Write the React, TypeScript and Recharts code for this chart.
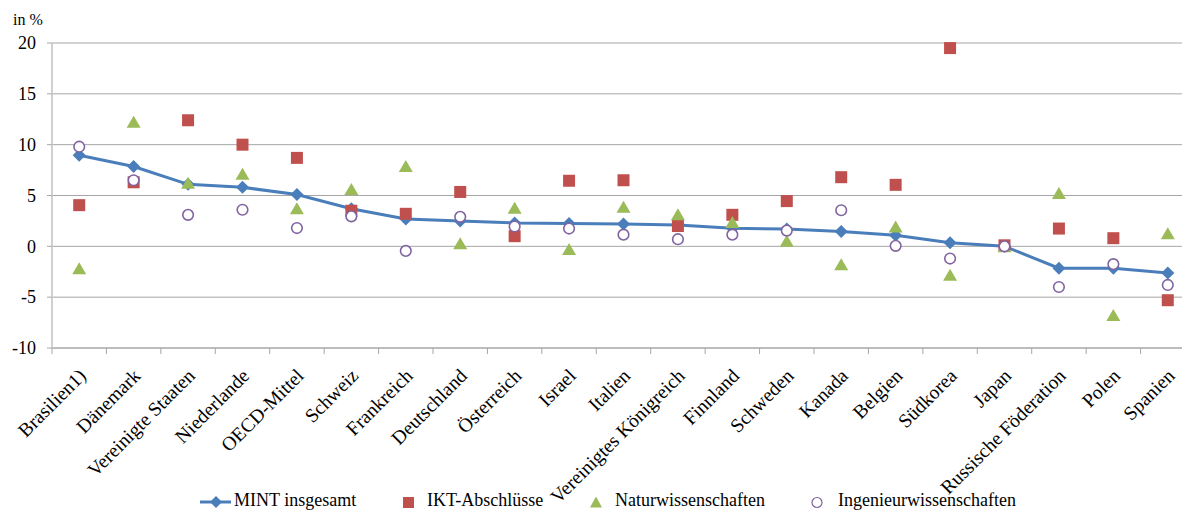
import React from 'react';
import { ComposedChart, Line, XAxis, YAxis, CartesianGrid } from 'recharts';

const categories = [
  'Brasilien1)', 'Dänemark', 'Vereinigte Staaten', 'Niederlande', 'OECD-Mittel', 'Schweiz',
  'Frankreich', 'Deutschland', 'Österreich', 'Israel', 'Italien', 'Vereinigtes Königreich',
  'Finnland', 'Schweden', 'Kanada', 'Belgien', 'Südkorea', 'Japan', 'Russische Föderation',
  'Polen', 'Spanien',
];
const mintValues = [8.95, 7.85, 6.1, 5.8, 5.1, 3.7, 2.7, 2.5, 2.3, 2.25, 2.2, 2.1, 1.77, 1.7, 1.45, 1.1, 0.36, 0.0, -2.15, -2.15, -2.62];
const iktValues = [4.05, 6.3, 12.4, 10.0, 8.7, 3.5, 3.2, 5.35, 1.0, 6.45, 6.5, 2.0, 3.1, 4.45, 6.8, 6.05, 19.5, 0.1, 1.75, 0.8, -5.3];
const naturValues = [-2.2, 12.2, 6.2, 7.1, 3.7, 5.6, 7.85, 0.25, 3.75, -0.3, 3.85, 3.1, 2.35, 0.5, -1.8, 1.9, -2.85, -0.05, 5.2, -6.8, 1.25];
const ingValues = [9.8, 6.5, 3.1, 3.6, 1.8, 2.95, -0.45, 2.9, 1.95, 1.75, 1.15, 0.7, 1.15, 1.55, 3.55, 0.05, -1.2, 0.0, -4.0, -1.75, -3.8];
const yTicks = [-10, -5, 0, 5, 10, 15, 20];
const legendLabels = ['MINT insgesamt', 'IKT-Abschlüsse', 'Naturwissenschaften', 'Ingenieurwissenschaften'];

const data = categories.map((name, i) => ({
  name,
  mint: mintValues[i],
  ikt: iktValues[i],
  natur: naturValues[i],
  ing: ingValues[i],
}));

const BLUE = '#4A7EBB';
const RED = '#C0504D';
const GREEN = '#9BBB59';
const PURPLE = '#8064A2';
const FONT = "'Liberation Serif', 'Times New Roman', serif";

const CHART_W = 1210;
const CHART_H = 510;
const MARGIN = { top: 43, right: 15, left: 0, bottom: 22 };
const Y_W = 52;
const STEP = (CHART_W - MARGIN.left - MARGIN.right - Y_W) / categories.length;

const Diamond = (p: any) => {
  const { cx, cy } = p;
  if (cx == null || cy == null) return <g key={p.key} />;
  const r = 6.5;
  return <polygon key={p.key} points={`${cx},${cy - r} ${cx + r},${cy} ${cx},${cy + r} ${cx - r},${cy}`} fill={BLUE} />;
};
const Square = (p: any) => {
  const { cx, cy } = p;
  if (cx == null || cy == null) return <g key={p.key} />;
  return <rect key={p.key} x={cx - 6} y={cy - 6} width={12} height={12} fill={RED} />;
};
const Triangle = (p: any) => {
  const { cx, cy } = p;
  if (cx == null || cy == null) return <g key={p.key} />;
  return <polygon key={p.key} points={`${cx},${cy - 6.5} ${cx + 7},${cy + 5.5} ${cx - 7},${cy + 5.5}`} fill={GREEN} />;
};
const Circle = (p: any) => {
  const { cx, cy } = p;
  if (cx == null || cy == null) return <g key={p.key} />;
  return <circle key={p.key} cx={cx} cy={cy} r={5.3} fill="#fff" stroke={PURPLE} strokeWidth={1.6} />;
};

const XTick = (props: any) => {
  const { x, y, payload, index } = props;
  const left = x - STEP / 2;
  return (
    <g>
      <line x1={left} y1={y} x2={left} y2={y + 6} stroke="#a6a6a6" strokeWidth={1} />
      {index === categories.length - 1 && (
        <line x1={x + STEP / 2} y1={y} x2={x + STEP / 2} y2={y + 6} stroke="#a6a6a6" strokeWidth={1} />
      )}
      <g transform={`translate(${x + 8},${y + 29}) rotate(-45)`}>
        <text x={0} y={0} textAnchor="end" style={{ fontFamily: FONT }} fontSize={19.5} fill="#000">
          {payload.value}
        </text>
      </g>
    </g>
  );
};

const YTick = (props: any) => {
  const { x, y, payload } = props;
  return (
    <text x={x} y={y} dy="0.35em" textAnchor="end" style={{ fontFamily: FONT }} fontSize={18} fill="#000">
      {payload.value}
    </text>
  );
};

const Legend = () => {
  const textStyle: React.CSSProperties = { position: 'absolute', top: 490, fontFamily: FONT, fontSize: 18, color: '#000', whiteSpace: 'nowrap', lineHeight: '20px' };
  return (
    <>
      <svg style={{ position: 'absolute', left: 0, top: 490, overflow: 'visible' }} width={1182} height={20}>
        <line x1={200} y1={12} x2={231} y2={12} stroke={BLUE} strokeWidth={3} />
        <polygon points="216,6 222,12 216,18 210,12" fill={BLUE} />
        <rect x={403} y={7} width={11} height={11} fill={RED} />
        <polygon points="596,6.5 602,17.5 590,17.5" fill={GREEN} />
        <circle cx={817} cy={12.5} r={5} fill="#fff" stroke={PURPLE} strokeWidth={1.2} />
      </svg>
      <div style={{ ...textStyle, left: 234 }}>{legendLabels[0]}</div>
      <div style={{ ...textStyle, left: 427 }}>{legendLabels[1]}</div>
      <div style={{ ...textStyle, left: 615 }}>{legendLabels[2]}</div>
      <div style={{ ...textStyle, left: 838 }}>{legendLabels[3]}</div>
    </>
  );
};

export default function App() {
  return (
    <div style={{ position: 'absolute', left: 0, top: 0, width: 1182, height: 510, overflow: 'hidden', background: '#fff' }}>
      <ComposedChart width={CHART_W} height={CHART_H} data={data} margin={MARGIN}>
        <CartesianGrid vertical={false} stroke="#a6a6a6" strokeWidth={1} />
        <XAxis
          dataKey="name"
          interval={0}
          padding={{ left: STEP / 2, right: STEP / 2 }}
          tick={<XTick />}
          tickLine={false}
          tickSize={0}
          tickMargin={0}
          axisLine={{ stroke: '#a6a6a6', strokeWidth: 1 }}
          height={140}
        />
        <YAxis
          width={Y_W}
          domain={[-10, 20]}
          ticks={yTicks}
          interval={0}
          tickSize={5}
          tickMargin={11}
          tickLine={{ stroke: '#a6a6a6' }}
          axisLine={{ stroke: '#d0d0d0', strokeWidth: 2 }}
          tick={<YTick />}
          label={() => (
            <text x={13} y={25} style={{ fontFamily: FONT }} fontSize={16} fill="#000">in %</text>
          )}
        />
        <Line dataKey="mint" stroke={BLUE} strokeWidth={3} dot={Diamond} activeDot={false} isAnimationActive={false} />
        <Line dataKey="ikt" stroke="none" strokeWidth={0} dot={Square} activeDot={false} isAnimationActive={false} />
        <Line dataKey="natur" stroke="none" strokeWidth={0} dot={Triangle} activeDot={false} isAnimationActive={false} />
        <Line dataKey="ing" stroke="none" strokeWidth={0} dot={Circle} activeDot={false} isAnimationActive={false} />
      </ComposedChart>
      <Legend />
    </div>
  );
}
